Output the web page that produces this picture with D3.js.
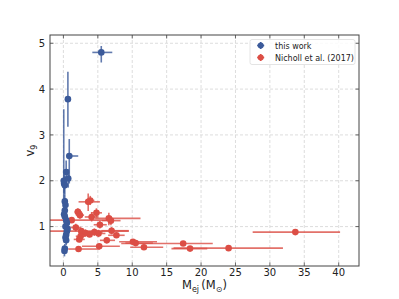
<!DOCTYPE html>
<html>
<head>
<meta charset="utf-8">
<script src="https://cdn.jsdelivr.net/npm/d3@7"></script>
<style>
  body { margin: 0; background: #fff; }
  svg text { font-family: "DejaVu Sans", sans-serif; fill: #222; }
</style>
</head>
<body>
<svg id="chart" width="399" height="299"></svg>
<script>
// ── Data ───────────────────────────────────────────────────────────────
const xTicks = [0, 5, 10, 15, 20, 25, 30, 35, 40];
const yTicks = [1, 2, 3, 4, 5];

// this work: Mej, v9 and asymmetric errors
const workM    = [5.5, 0.65, 0.05, 0.85, 0.4, 0.7, 0.1, 0.2, 0.2, 0.3, 0.2, 0.1, 0.2, 0.4, 0.5, 0.3, 0.6, 0.5, 0.4, 0.3, 0.4, 0.2, 0.15];
const workV    = [4.80, 3.78, 2.00, 2.54, 2.19, 2.05, 1.94, 1.90, 1.55, 1.47, 1.35, 1.27, 1.22, 1.14, 1.08, 1.00, 0.95, 0.90, 0.82, 0.76, 0.70, 0.52, 0.47];
const workMLo  = [1.3, 0.2, 0.05, 0.2, 0.1, 0.2, 0.1, 0.1, 0.1, 0.1, 0.1, 0.1, 0.1, 0.2, 0.2, 0.1, 0.2, 0.2, 0.1, 0.1, 0.1, 0.1, 0.1];
const workMHi  = [1.6, 0.2, 0.1, 1.3, 0.2, 0.3, 0.2, 0.2, 0.2, 0.2, 0.2, 0.2, 0.2, 0.3, 0.3, 0.2, 0.3, 0.3, 0.2, 0.2, 0.2, 0.2, 0.2];
const workVLo  = [0.22, 0.60, 0.60, 0.60, 0.30, 0.20, 0.20, 0.20, 0.15, 0.15, 0.15, 0.12, 0.12, 0.12, 0.10, 0.10, 0.10, 0.10, 0.10, 0.10, 0.10, 0.10, 0.12];
const workVHi  = [0.14, 0.60, 1.56, 0.37, 0.25, 0.20, 0.20, 0.20, 0.15, 0.15, 0.15, 0.12, 0.12, 0.12, 0.10, 0.10, 0.10, 0.10, 0.10, 0.10, 0.10, 0.10, 0.10];

// Nicholl et al. (2017)
const nichM    = [3.6, 3.9, 2.1, 4.8, 2.4, 4.1, 6.6, 6.9, 1.2, 5.3, 1.8, 2.6, 3.2, 4.5, 3.8, 5.1, 2.5, 7.0, 7.7, 6.3, 2.3, 5.2, 2.2, 10.1, 10.5, 11.7, 17.4, 18.4, 24.0, 33.7];
const nichV    = [1.54, 1.57, 1.32, 1.30, 1.25, 1.21, 1.18, 1.13, 1.14, 1.04, 0.98, 0.90, 0.86, 0.88, 0.83, 0.85, 0.79, 0.91, 0.81, 0.70, 0.72, 0.57, 0.51, 0.67, 0.64, 0.55, 0.63, 0.52, 0.53, 0.88];
const nichMLo  = [1.4, 0.5, 0.5, 0.8, 0.6, 1.0, 2.0, 1.3, 3.5, 0.9, 0.8, 4.8, 1.0, 1.2, 0.8, 1.0, 0.7, 1.5, 1.2, 1.0, 0.8, 2.5, 1.5, 2.0, 1.5, 2.0, 9.0, 2.7, 8.0, 6.2];
const nichMHi  = [1.7, 0.6, 0.6, 0.8, 0.6, 1.0, 4.6, 1.4, 6.0, 1.0, 0.8, 6.9, 1.0, 1.2, 0.8, 1.0, 0.7, 2.5, 1.2, 1.2, 0.8, 3.0, 3.1, 3.5, 2.5, 2.8, 4.3, 2.5, 7.9, 6.5];
const nichVLo  = [0.20, 0.10, 0.08, 0.10, 0.08, 0.10, 0.15, 0.10, 0.06, 0.08, 0.08, 0.06, 0.08, 0.08, 0.06, 0.08, 0.06, 0.08, 0.06, 0.06, 0.06, 0.05, 0.05, 0.05, 0.05, 0.04, 0.04, 0.03, 0.03, 0.03];
const nichVHi  = [0.18, 0.10, 0.08, 0.10, 0.08, 0.10, 0.12, 0.10, 0.06, 0.08, 0.08, 0.06, 0.08, 0.08, 0.06, 0.08, 0.06, 0.08, 0.06, 0.06, 0.06, 0.05, 0.05, 0.05, 0.05, 0.04, 0.04, 0.03, 0.03, 0.03];

const BLUE = '#3b5a9a', RED = '#dc4e45';

// ── Layout ─────────────────────────────────────────────────────────────
const svg = d3.select('#chart');
const L = 50, R = 359, T = 35, B = 266;

const x = d3.scaleLinear().domain([-1.95, 42.95]).range([L, R]);
const y = d3.scaleLinear().domain([0.14, 5.18]).range([B, T]);

// grid
const grid = svg.append('g').attr('stroke', '#d4d4d4').attr('stroke-width', 0.8).attr('stroke-dasharray', '3,2');
grid.selectAll('.gx').data(xTicks).enter().append('line')
  .attr('x1', d => x(d)).attr('x2', d => x(d)).attr('y1', T).attr('y2', B);
grid.selectAll('.gy').data(yTicks).enter().append('line')
  .attr('x1', L).attr('x2', R).attr('y1', d => y(d)).attr('y2', d => y(d));

// clip
svg.append('clipPath').attr('id', 'clip').append('rect')
  .attr('x', L).attr('y', T).attr('width', R - L).attr('height', B - T);

function drawSeries(M, V, mLo, mHi, vLo, vHi, color) {
  const g = svg.append('g').attr('clip-path', 'url(#clip)');
  const pts = M.map((m, i) => ({ m, v: V[i], mLo: mLo[i], mHi: mHi[i], vLo: vLo[i], vHi: vHi[i] }));
  g.selectAll('.ex').data(pts).enter().append('line')
    .attr('x1', d => x(d.m - d.mLo)).attr('x2', d => x(d.m + d.mHi))
    .attr('y1', d => y(d.v)).attr('y2', d => y(d.v))
    .attr('stroke', color).attr('stroke-width', 1.6).attr('opacity', 0.8);
  g.selectAll('.ey').data(pts).enter().append('line')
    .attr('x1', d => x(d.m)).attr('x2', d => x(d.m))
    .attr('y1', d => y(d.v - d.vLo)).attr('y2', d => y(d.v + d.vHi))
    .attr('stroke', color).attr('stroke-width', 1.6).attr('opacity', 0.8);
  g.selectAll('circle').data(pts).enter().append('circle')
    .attr('cx', d => x(d.m)).attr('cy', d => y(d.v)).attr('r', 3.3)
    .attr('fill', color);
}
drawSeries(nichM, nichV, nichMLo, nichMHi, nichVLo, nichVHi, RED);
drawSeries(workM, workV, workMLo, workMHi, workVLo, workVHi, BLUE);

// frame + ticks (inward)
svg.append('rect').attr('x', L).attr('y', T).attr('width', R - L).attr('height', B - T)
  .attr('fill', 'none').attr('stroke', '#444').attr('stroke-width', 1);
const tk = svg.append('g').attr('stroke', '#444').attr('stroke-width', 0.8);
xTicks.forEach(d => {
  tk.append('line').attr('x1', x(d)).attr('x2', x(d)).attr('y1', B).attr('y2', B - 3.5);
  tk.append('line').attr('x1', x(d)).attr('x2', x(d)).attr('y1', T).attr('y2', T + 3.5);
});
yTicks.forEach(d => {
  tk.append('line').attr('x1', L).attr('x2', L + 3.5).attr('y1', y(d)).attr('y2', y(d));
  tk.append('line').attr('x1', R).attr('x2', R - 3.5).attr('y1', y(d)).attr('y2', y(d));
});

// tick labels
svg.selectAll('.xl').data(xTicks).enter().append('text')
  .attr('x', d => x(d)).attr('y', B + 10).attr('text-anchor', 'middle')
  .attr('font-size', 10).text(d => d);
svg.selectAll('.yl').data(yTicks).enter().append('text')
  .attr('x', L - 5).attr('y', d => y(d) + 3.6).attr('text-anchor', 'end')
  .attr('font-size', 10).text(d => d);

// axis labels
const xl = svg.append('text').attr('x', (L + R) / 2).attr('y', 289).attr('text-anchor', 'middle').attr('font-size', 11.5);
xl.append('tspan').text('M');
xl.append('tspan').attr('font-size', 8).attr('dy', 3).text('ej');
xl.append('tspan').attr('dy', -3).text('\u2009(M');
xl.append('tspan').attr('font-size', 8).attr('dy', 3).text('⊙');
xl.append('tspan').attr('dy', -3).text(')');

const yl = svg.append('text').attr('transform', `translate(34,${(T + B) / 2}) rotate(-90)`)
  .attr('text-anchor', 'middle').attr('font-size', 11.5);
yl.append('tspan').text('v');
yl.append('tspan').attr('font-size', 8).attr('dy', 3).text('9');

// legend
const lg = svg.append('g');
lg.append('rect').attr('x', 250).attr('y', 39.5).attr('width', 105).attr('height', 25).attr('rx', 2)
  .attr('fill', '#fff').attr('fill-opacity', 0.85).attr('stroke', '#ddd').attr('stroke-width', 0.8);
[['this work', BLUE], ['Nicholl et al. (2017)', RED]].forEach(([label, c], i) => {
  const cy = 45.5 + i * 12, cx = 260.7;
  lg.append('line').attr('x1', cx - 3.5).attr('x2', cx + 3.5).attr('y1', cy).attr('y2', cy).attr('stroke', c).attr('stroke-width', 1.6);
  lg.append('line').attr('x1', cx).attr('x2', cx).attr('y1', cy - 3.5).attr('y2', cy + 3.5).attr('stroke', c).attr('stroke-width', 1.6);
  lg.append('circle').attr('cx', cx).attr('cy', cy).attr('r', 3).attr('fill', c);
  lg.append('text').attr('x', 275).attr('y', cy + 3).attr('font-size', 8).text(label);
});
</script>
</body>
</html>
